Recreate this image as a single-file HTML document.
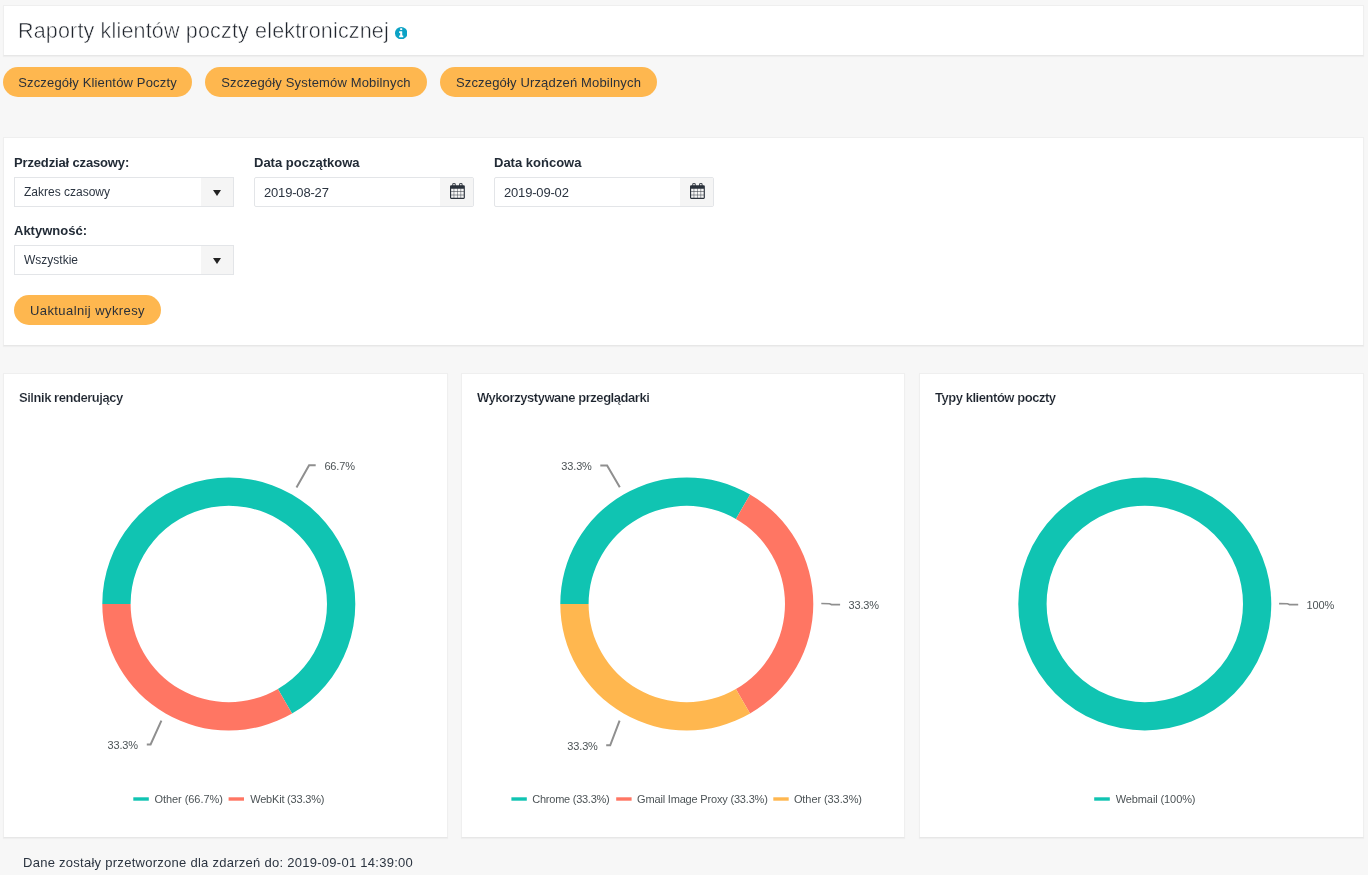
<!DOCTYPE html>
<html lang="pl">
<head>
<meta charset="utf-8">
<title>Raporty klientów poczty elektronicznej</title>
<style>
*{box-sizing:border-box;margin:0;padding:0}
html,body{width:1368px;height:875px;overflow:hidden}
body{background:#f7f7f7;font-family:"Liberation Sans",sans-serif;color:#2b3440;position:relative}
.panel{position:absolute;background:#fff;border:1px solid #efefef;border-bottom-color:#e7e7e7;box-shadow:0 1px 1px rgba(0,0,0,.03)}
.abs{position:absolute;white-space:nowrap}
#hdr{left:3px;top:5px;width:1361px;height:51px}
#ttl{left:18px;top:19px;font-size:21.5px;line-height:24px;letter-spacing:.17px;color:#1f242c;-webkit-text-stroke:.5px #fff}
.btn{position:absolute;height:30px;border-radius:15px;background:#feb74f;color:#2a3039;font-size:13px;line-height:32px;text-align:center;white-space:nowrap;letter-spacing:.16px}
#form{left:3px;top:137px;width:1361px;height:209px}
.lbl{position:absolute;font-weight:bold;font-size:13px;line-height:16px;white-space:nowrap;color:#222b36}
.inp{position:absolute;width:220px;height:30px;border:1px solid #e3e5e8;border-radius:2px;background:#fff;font-size:12px;line-height:28px;color:#2b3440}
.inp span{position:absolute;left:9px;top:0;white-space:nowrap}
.inp i{position:absolute;right:0;top:0;width:32px;height:28px;background:#f5f5f5;display:block}
.cal{position:absolute;left:9.9px;top:4.85px}
.arrow{position:absolute;left:12px;top:12px;width:0;height:0;border-left:4px solid transparent;border-right:4px solid transparent;border-top:6px solid #222}
.chart{top:373px;height:465px}
.ctitle{position:absolute;left:15px;top:16px;font-weight:bold;font-size:13px;line-height:16px;letter-spacing:-.46px;white-space:nowrap;color:#1c232d;-webkit-text-stroke:.15px #fff}
svg text{font-family:"Liberation Sans",sans-serif;font-size:11px;fill:#4c5356;letter-spacing:-.15px}
#foot{left:23px;top:854px;font-size:13px;line-height:18px;letter-spacing:.27px;color:#2b3440}
</style>
</head>
<body>

<div class="panel" id="hdr"></div>
<div class="abs" id="ttl">Raporty klientów poczty elektronicznej</div>
<svg class="abs" style="left:394.85px;top:26.7px" width="12.4" height="12.4" viewBox="0 0 1536 1536"><circle cx="768" cy="768" r="768" fill="#0ca2c5"/><path d="M672 160h192q32 0 32 32v160q0 32-32 32H672q-32 0-32-32V192q0-32 32-32zM544 512h320q32 0 32 32v512h96q32 0 32 32v160q0 32-32 32H544q-32 0-32-32v-160q0-32 32-32h96V736h-96q-32 0-32-32V544q0-32 32-32z" fill="#fff"/></svg>

<div class="btn" style="left:3px;top:67px;width:189px">Szczegóły Klientów Poczty</div>
<div class="btn" style="left:205px;top:67px;width:222px">Szczegóły Systemów Mobilnych</div>
<div class="btn" style="left:440px;top:67px;width:217px">Szczegóły Urządzeń Mobilnych</div>

<div class="panel" id="form"></div>
<div class="lbl" style="left:14px;top:155px;letter-spacing:-.15px">Przedział czasowy:</div>
<div class="lbl" style="left:254px;top:155px">Data początkowa</div>
<div class="lbl" style="left:494px;top:155px">Data końcowa</div>
<div class="inp" style="left:14px;top:177px;border-radius:0"><span>Zakres czasowy</span><i><b class="arrow"></b></i></div>
<div class="inp" style="left:254px;top:177px"><span style="font-size:13px;top:1px;letter-spacing:-.18px">2019-08-27</span><i style="width:33px"><svg class="cal" width="14.86" height="16" viewBox="0 0 1664 1792"><path fill="#2a313b" fill-rule="evenodd" d="M128 256h1408q128 0 128 128v1280q0 128-128 128H128q-128 0-128-128V384q0-128 128-128zM128 640v292h292V640zM468 640v292h340V640zM856 640v292h340V640zM1244 640v292h292V640zM128 980v340h292V980zM468 980v340h340V980zM856 980v340h340V980zM1244 980v340h292V980zM128 1368v296h292V1368zM468 1368v296h340V1368zM856 1368v296h340V1368zM1244 1368v296h292V1368z"/><path fill="#2a313b" fill-rule="evenodd" d="M416 0h64q160 0 160 160v352H256V160Q256 0 416 0zM400 96q-32 0-32 32v352q0 32 32 32h96q32 0 32-32V128q0-32-32-32zM1184 0h64q160 0 160 160v352h-384V160q0-160 160-160zM1168 96q-32 0-32 32v352q0 32 32 32h96q32 0 32-32V128q0-32-32-32z"/></svg></i></div>
<div class="inp" style="left:494px;top:177px"><span style="font-size:13px;top:1px;letter-spacing:-.18px">2019-09-02</span><i style="width:33px"><svg class="cal" width="14.86" height="16" viewBox="0 0 1664 1792"><path fill="#2a313b" fill-rule="evenodd" d="M128 256h1408q128 0 128 128v1280q0 128-128 128H128q-128 0-128-128V384q0-128 128-128zM128 640v292h292V640zM468 640v292h340V640zM856 640v292h340V640zM1244 640v292h292V640zM128 980v340h292V980zM468 980v340h340V980zM856 980v340h340V980zM1244 980v340h292V980zM128 1368v296h292V1368zM468 1368v296h340V1368zM856 1368v296h340V1368zM1244 1368v296h292V1368z"/><path fill="#2a313b" fill-rule="evenodd" d="M416 0h64q160 0 160 160v352H256V160Q256 0 416 0zM400 96q-32 0-32 32v352q0 32 32 32h96q32 0 32-32V128q0-32-32-32zM1184 0h64q160 0 160 160v352h-384V160q0-160 160-160zM1168 96q-32 0-32 32v352q0 32 32 32h96q32 0 32-32V128q0-32-32-32z"/></svg></i></div>
<div class="lbl" style="left:14px;top:223px">Aktywność:</div>
<div class="inp" style="left:14px;top:245px;border-radius:0"><span>Wszystkie</span><i><b class="arrow"></b></i></div>
<div class="btn" style="left:14px;top:295px;width:147px;letter-spacing:.41px">Uaktualnij wykresy</div>

<div class="panel chart" style="left:3px;width:445px"><div class="ctitle">Silnik renderujący</div></div>
<div class="panel chart" style="left:461px;width:444px"><div class="ctitle">Wykorzystywane przeglądarki</div></div>
<div class="panel chart" style="left:919px;width:445px"><div class="ctitle">Typy klientów poczty</div></div>

<svg class="abs" id="charts" style="left:0;top:374px" width="1368" height="462" viewBox="0 374 1368 462">
<path d="M102.30 604.00A126.5 126.5 0 1 1 292.05 713.55L277.90 689.04A98.2 98.2 0 1 0 130.60 604.00Z" fill="#10c4b2"/>
<path d="M292.05 713.55A126.5 126.5 0 0 1 102.30 604.00L130.60 604.00A98.2 98.2 0 0 0 277.90 689.04Z" fill="#ff7663"/>
<path d="M560.30 604.00A126.5 126.5 0 0 1 750.05 494.45L735.90 518.96A98.2 98.2 0 0 0 588.60 604.00Z" fill="#10c4b2"/>
<path d="M750.05 494.45A126.5 126.5 0 0 1 750.05 713.55L735.90 689.04A98.2 98.2 0 0 0 735.90 518.96Z" fill="#ff7663"/>
<path d="M750.05 713.55A126.5 126.5 0 0 1 560.30 604.00L588.60 604.00A98.2 98.2 0 0 0 735.90 689.04Z" fill="#ffb74f"/>
<circle cx="1144.8" cy="604.0" r="112.35" fill="none" stroke="#10c4b2" stroke-width="28.30"/>
<path d="M296.5 487.4L309.1 465.2L315.7 465.2" fill="none" stroke="#8f8f8f" stroke-width="2"/>
<text x="324.4" y="469.9" text-anchor="start">66.7%</text>
<path d="M161.4 720.6L150.6 744.4L146.8 744.4" fill="none" stroke="#8f8f8f" stroke-width="2"/>
<text x="107.5" y="748.9" text-anchor="start">33.3%</text>
<path d="M619.8 487.2L607.1 465.4L600.3 465.4" fill="none" stroke="#8f8f8f" stroke-width="2"/>
<text x="561.3" y="469.8" text-anchor="start">33.3%</text>
<path d="M619.6 720.6L610.2 745.3L606.2 745.3" fill="none" stroke="#8f8f8f" stroke-width="2"/>
<text x="567.3" y="749.9" text-anchor="start">33.3%</text>
<path d="M821.3 603.5L829.5 603.7L831.5 604.6L840.1 604.6" fill="none" stroke="#8f8f8f" stroke-width="1.6"/>
<text x="848.5" y="608.7" text-anchor="start">33.3%</text>
<path d="M1279.1 603.6L1287.5 603.8L1289.5 604.6L1298.2 604.6" fill="none" stroke="#8f8f8f" stroke-width="1.6"/>
<text x="1306.5" y="608.8" text-anchor="start">100%</text>
<rect x="133.3" y="797.3" width="15.5" height="3.4" fill="#10c4b2"/><text x="154.4" y="802.9" text-anchor="start" style="letter-spacing:-0.05px">Other (66.7%)</text><rect x="228.6" y="797.3" width="15.4" height="3.4" fill="#ff7663"/><text x="250.2" y="802.9" text-anchor="start" style="letter-spacing:-0.2px">WebKit (33.3%)</text>
<rect x="511.4" y="797.3" width="15.4" height="3.4" fill="#10c4b2"/><text x="532.3" y="802.9" text-anchor="start" style="letter-spacing:-0.25px">Chrome (33.3%)</text><rect x="616.2" y="797.3" width="15.4" height="3.4" fill="#ff7663"/><text x="637.1" y="802.9" text-anchor="start" style="letter-spacing:-0.18px">Gmail Image Proxy (33.3%)</text><rect x="773.3" y="797.3" width="15.4" height="3.4" fill="#ffb74f"/><text x="793.9" y="802.9" text-anchor="start" style="letter-spacing:-0.08px">Other (33.3%)</text>
<rect x="1094.2" y="797.3" width="15.6" height="3.4" fill="#10c4b2"/><text x="1115.7" y="802.9" text-anchor="start" style="letter-spacing:-0.1px">Webmail (100%)</text>
</svg>

<div class="abs" id="foot">Dane zostały przetworzone dla zdarzeń do: 2019-09-01 14:39:00</div>

</body>
</html>
